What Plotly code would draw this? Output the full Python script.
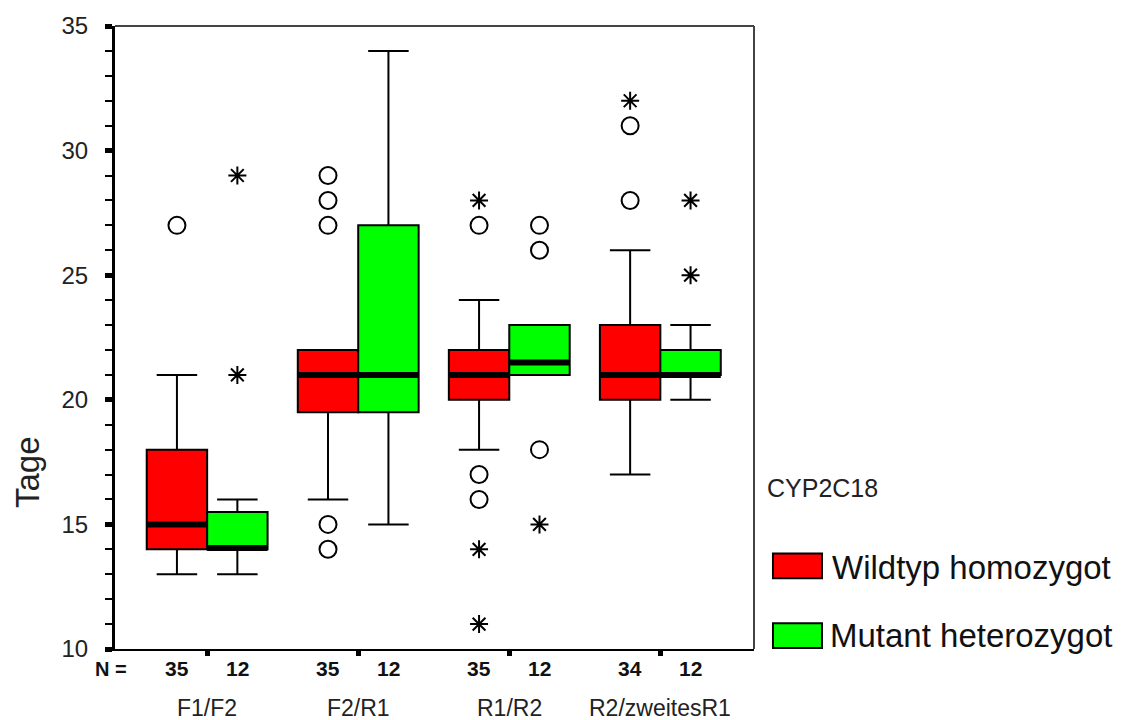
import plotly.graph_objects as go

# ---- data ----
groups = ["F1/F2", "F2/R1", "R1/R2", "R2/zweitesR1"]
series_names = ["Wildtyp homozygot", "Mutant heterozygot"]
legend_title = "CYP2C18"

wt_lower = [13, 16, 18, 17]
wt_q1 = [14, 19.5, 20, 20]
wt_median = [15, 21, 21, 21]
wt_q3 = [18, 22, 22, 23]
wt_upper = [21, 22, 24, 26]
wt_n = [35, 35, 35, 34]
wt_outliers = [[27], [14, 15, 27, 28, 29], [16, 17, 27], [28, 31]]
wt_extremes = [[], [], [11, 14, 28], [32]]

mu_lower = [13, 15, 21, 20]
mu_q1 = [14, 19.5, 21, 21]
mu_median = [14.05, 21, 21.5, 21]
mu_q3 = [15.5, 27, 23, 22]
mu_upper = [16, 34, 23, 23]
mu_n = [12, 12, 12, 12]
mu_outliers = [[], [], [18, 26, 27], []]
mu_extremes = [[21, 29], [], [15], [25, 28]]

y_ticks = [10, 15, 20, 25, 30, 35]

RED = "#FF0000"
GREEN = "#00FF00"
OFFSET = 0.2
BOXW = 0.4

fig = go.Figure()

series = [
    (series_names[0], RED, -OFFSET, wt_lower, wt_q1, wt_median, wt_q3, wt_upper, wt_n, wt_outliers, wt_extremes),
    (series_names[1], GREEN, OFFSET, mu_lower, mu_q1, mu_median, mu_q3, mu_upper, mu_n, mu_outliers, mu_extremes),
]

for name, col, off, lo, q1, med, q3, up, n, outl, extr in series:
    xs = [i + off for i in range(len(groups))]
    fig.add_trace(go.Box(
        x=xs, q1=q1, median=med, q3=q3, lowerfence=lo, upperfence=up,
        width=BOXW, whiskerwidth=0.67, fillcolor=col,
        line=dict(color="black", width=2), boxpoints=False,
        name=name, showlegend=False, hoverinfo="skip",
    ))

for name, col, off, lo, q1, med, q3, up, n, outl, extr in series:
    mx, my = [], []
    for i, m in enumerate(med):
        c = i + off
        mx += [c - BOXW / 2, c + BOXW / 2, None]
        my += [m, m, None]
    fig.add_trace(go.Scatter(x=mx, y=my, mode="lines",
                             line=dict(color="black", width=6),
                             showlegend=False, hoverinfo="skip"))
    ox, oy, ex, ey = [], [], [], []
    for i in range(len(groups)):
        for v in outl[i]:
            ox.append(i + off); oy.append(v)
        for v in extr[i]:
            ex.append(i + off); ey.append(v)
    fig.add_trace(go.Scatter(x=ox, y=oy, mode="markers",
                             marker=dict(symbol="circle-open", size=17,
                                         color="black", line=dict(width=2)),
                             showlegend=False, hoverinfo="skip"))
    fig.add_trace(go.Scatter(x=ex, y=ey, mode="markers",
                             marker=dict(symbol="asterisk-open", size=15,
                                         color="black", line=dict(width=2)),
                             showlegend=False, hoverinfo="skip"))

annotations = []
# N counts
for name, col, off, lo, q1, med, q3, up, n, outl, extr in series:
    for i, v in enumerate(n):
        annotations.append(dict(x=i + off, y=-0.032, xref="x", yref="paper",
                                text=f"<b>{v}</b>", showarrow=False,
                                font=dict(size=21, color="#111"),
                                xanchor="center", yanchor="middle"))
annotations.append(dict(x=-0.006, y=-0.032, xref="paper", yref="paper",
                        text="<b>N =</b>", showarrow=False,
                        font=dict(size=20, color="#111"),
                        xanchor="center", yanchor="middle"))
# group labels
for i, g in enumerate(groups):
    annotations.append(dict(x=i, y=-0.094, xref="x", yref="paper", text=g,
                            showarrow=False, font=dict(size=23, color="#222"),
                            xanchor="center", yanchor="middle"))
# y title
annotations.append(dict(x=-0.1377, y=0.284, xref="paper", yref="paper",
                        text="Tage", textangle=-90, showarrow=False,
                        font=dict(size=33, color="#222"),
                        xanchor="center", yanchor="middle"))
# legend
annotations.append(dict(x=1.017, y=0.259, xref="paper", yref="paper",
                        text=legend_title, showarrow=False,
                        font=dict(size=25, color="#222"),
                        xanchor="left", yanchor="middle"))
annotations.append(dict(x=1.119, y=0.131, xref="paper", yref="paper",
                        text=series_names[0], showarrow=False,
                        font=dict(size=33, color="#111"),
                        xanchor="left", yanchor="middle"))
annotations.append(dict(x=1.116, y=0.0224, xref="paper", yref="paper",
                        text=series_names[1], showarrow=False,
                        font=dict(size=33, color="#111"),
                        xanchor="left", yanchor="middle"))

shapes = [
    dict(type="rect", xref="paper", yref="paper", x0=1.0297, x1=1.1064,
         y0=0.1134, y1=0.1534, fillcolor=RED, line=dict(color="black", width=2)),
    dict(type="rect", xref="paper", yref="paper", x0=1.0297, x1=1.1064,
         y0=0.0016, y1=0.0415, fillcolor=GREEN, line=dict(color="black", width=2)),
    dict(type="line", xref="paper", yref="paper", x0=0, x1=1, y0=1, y1=1,
         line=dict(color="#444", width=2)),
    dict(type="line", xref="paper", yref="paper", x0=1, x1=1, y0=0, y1=1,
         line=dict(color="#444", width=2)),
]

fig.update_layout(
    width=1127, height=720,
    margin=dict(l=115, r=373, t=23, b=71),
    paper_bgcolor="white", plot_bgcolor="white",
    font=dict(family="Liberation Sans, Arial, sans-serif", color="#222"),
    showlegend=False,
    annotations=annotations,
    shapes=shapes,
    xaxis=dict(range=[-0.61, 3.62], showgrid=False, zeroline=False,
               showline=True, linecolor="black", linewidth=2,
               tickvals=list(range(len(groups))), ticks="outside",
               ticklen=5, tickwidth=5, tickcolor="black",
               showticklabels=False),
    yaxis=dict(range=[10, 35], showgrid=False, zeroline=False,
               showline=True, linecolor="black", linewidth=3,
               tickvals=y_ticks, ticks="outside", ticklen=7, tickwidth=5,
               tickcolor="black", ticklabelstandoff=12,
               tickfont=dict(size=24, color="#222"),
               minor=dict(dtick=1, ticks="outside", ticklen=7, tickwidth=2,
                          tickcolor="black", showgrid=False)),
)

fig.write_html("out.html")
